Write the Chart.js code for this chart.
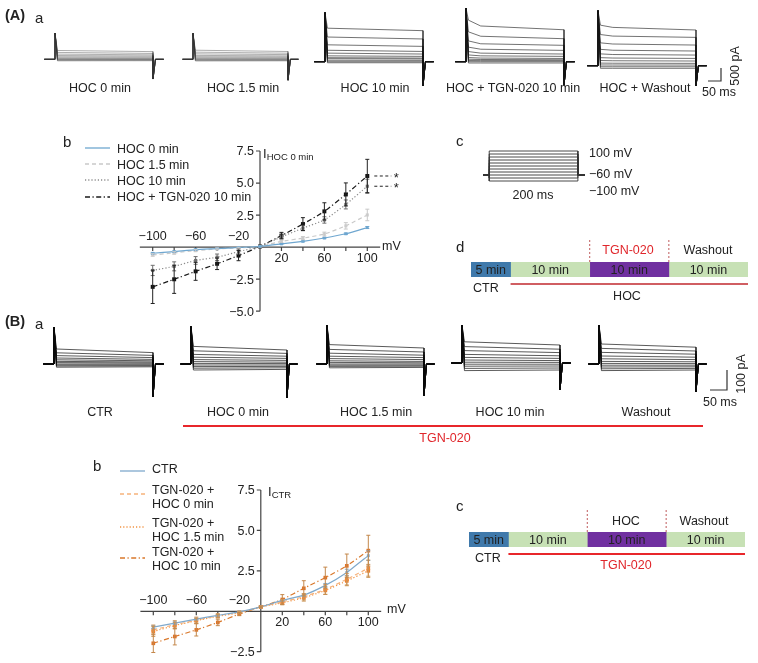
<!DOCTYPE html>
<html>
<head>
<meta charset="utf-8">
<script src="https://cdn.jsdelivr.net/npm/chart.js@4.4.1/dist/chart.umd.min.js"></script>
<style>
html, body { margin: 0; padding: 0; background: #fff; }
#fig { position: relative; width: 758px; height: 663px; overflow: hidden; font-family: "Liberation Sans", Arial, sans-serif; color: #222; }
#fig canvas, #fig svg { position: absolute; left: 0; top: 0; }
.t { position: absolute; white-space: nowrap; font-size: 12.5px; line-height: 1; }
.t sub { font-size: 9.5px; vertical-align: -2px; }
</style>
</head>
<body>
<div id="fig"></div>
<script>
var W = 758, H = 663;
var FONT = '"Liberation Sans", Arial, sans-serif';

// voltage steps (mV), holding potential -60 mV
var steps = [-100, -80, -60, -40, -20, 0, 20, 40, 60, 80, 100];
var holding = -60;

// (A)a current traces in pA: level ~5 ms after step on, ~30 ms (optional), end of step
var aHoc0Early = [-60, -38, -16, 0, 28, 58, 98, 145, 200, 265, 340];
var aHoc0Late = [-55, -35, -15, 0, 25, 50, 85, 125, 170, 225, 295];
var aHoc15Early = [-65, -42, -18, 0, 28, 62, 102, 150, 210, 275, 350];
var aHoc15Late = [-60, -40, -18, 0, 25, 55, 90, 130, 180, 235, 300];
var aHoc10Early = [-40, 0, 55, 115, 155, 225, 330, 440, 650, 950, 1290];
var aHoc10Late = [-40, 0, 50, 105, 140, 205, 295, 395, 590, 875, 1195];
var aTgnEarly = [-50, 0, 45, 95, 160, 260, 390, 560, 800, 1150, 1600];
var aTgnMid = [-50, 0, 42, 85, 140, 225, 330, 480, 690, 980, 1375];
var aTgnLate = [-50, 0, 40, 75, 125, 205, 295, 435, 630, 885, 1230];
var aWashEarly = [-100, -40, 28, 100, 200, 310, 455, 630, 880, 1200, 1560];
var aWashMid = [-100, -40, 26, 95, 190, 295, 430, 595, 835, 1140, 1475];
var aWashLate = [-100, -40, 25, 90, 180, 280, 410, 565, 795, 1090, 1375];

// (B)a current traces in pA
var bCtrEarly = [-16, -10, -5, 0, 7, 13, 21, 30, 42, 56, 75];
var bCtrLate = [-14, -9, -5, 0, 5, 10, 16, 23, 32, 43, 57];
var bHoc0Early = [-30, -21, -13, -5, 3, 12, 22, 34, 48, 66, 88];
var bHoc0Late = [-27, -19, -12, -5, 2, 9, 18, 28, 39, 53, 70];
var bHoc15Early = [-19, -12, -6, 0, 8, 16, 27, 39, 54, 73, 97];
var bHoc15Late = [-17, -11, -6, 0, 6, 13, 22, 32, 44, 60, 80];
var bHoc10Early = [-38, -27, -16, -6, 4, 15, 28, 43, 62, 82, 106];
var bHoc10Late = [-35, -25, -15, -6, 3, 12, 23, 36, 52, 69, 90];
var bWashEarly = [-33, -24, -15, -6, 3, 13, 26, 40, 58, 78, 100];
var bWashLate = [-30, -22, -14, -6, 2, 11, 22, 34, 49, 65, 84];

// (A)b normalized I-V curves (I / I HOC 0 min)
var ivAHoc0 = [-0.48, -0.35, -0.19, -0.12, -0.03, 0.05, 0.25, 0.45, 0.71, 1.04, 1.53];
var ivAHoc0Err = [0.05, 0.05, 0.04, 0.03, 0.02, 0, 0.03, 0.04, 0.05, 0.06, 0.08];
var ivAHoc15 = [-0.61, -0.45, -0.27, -0.14, -0.06, 0.05, 0.45, 0.7, 1.02, 1.66, 2.51];
var ivAHoc15Err = [0.1, 0.1, 0.08, 0.06, 0.05, 0, 0.08, 0.12, 0.15, 0.25, 0.45];
var ivAHoc10 = [-1.82, -1.5, -1.04, -0.79, -0.35, 0.05, 0.8, 1.48, 2.12, 3.33, 4.75];
var ivAHoc10Err = [0.4, 0.35, 0.3, 0.25, 0.2, 0, 0.15, 0.2, 0.25, 0.35, 0.55];
var ivATgn = [-3.1, -2.51, -1.89, -1.3, -0.66, 0.05, 0.9, 1.8, 2.79, 4.11, 5.55];
var ivATgnErr = [1.3, 1.1, 0.7, 0.45, 0.4, 0, 0.25, 0.5, 0.67, 0.9, 1.3];

// (B)b normalized I-V curves (I / I CTR)
var ivBCtr = [-0.98, -0.73, -0.48, -0.25, -0.04, 0.27, 0.67, 1.0, 1.6, 2.4, 3.44];
var ivBCtrErr = [0.1, 0.08, 0.06, 0.05, 0.03, 0.03, 0.05, 0.08, 0.12, 0.2, 0.3];
var ivBHoc0 = [-1.15, -0.83, -0.56, -0.27, -0.06, 0.27, 0.58, 0.9, 1.35, 1.98, 2.67];
var ivBHoc0Err = [0.3, 0.25, 0.2, 0.12, 0.06, 0.05, 0.15, 0.2, 0.3, 0.35, 0.5];
var ivBHoc15 = [-1.25, -0.88, -0.58, -0.31, -0.1, 0.27, 0.52, 0.83, 1.29, 1.88, 2.5];
var ivBHoc15Err = [0.3, 0.2, 0.15, 0.1, 0.05, 0.05, 0.12, 0.2, 0.25, 0.3, 0.4];
var ivBHoc10 = [-1.98, -1.56, -1.15, -0.69, -0.17, 0.27, 0.73, 1.42, 2.08, 2.81, 3.75];
var ivBHoc10Err = [0.57, 0.52, 0.38, 0.2, 0.1, 0.05, 0.3, 0.47, 0.65, 0.73, 0.95];

// axis ticks
var ivXTicksAbove = [-100, -60, -20];
var ivXTicksBelow = [20, 60, 100];
var ivATicksY = [7.5, 5, 2.5, -2.5, -5];
var ivBTicksY = [7.5, 5, 2.5, -2.5];

// experiment timelines (minutes)
var phaseMinutes = [5, 10, 10, 10];
var phaseLabels = ['5 min', '10 min', '10 min', '10 min'];

var fig = document.getElementById('fig');

function makeChart(area, config) {
    var c = document.createElement('canvas');
    c.width = W; c.height = H;
    c.style.width = W + 'px'; c.style.height = H + 'px';
    fig.appendChild(c);
    var o = config.options || {};
    o.responsive = false;
    o.animation = false;
    o.events = [];
    o.layout = { padding: { left: area[0], top: area[1], right: W - area[2], bottom: H - area[3] } };
    o.plugins = o.plugins || {};
    o.plugins.legend = { display: false };
    o.plugins.tooltip = { enabled: false };
    config.options = o;
    return new Chart(c, config);
}

function text(html, x, y, opt) {
    opt = opt || {};
    var d = document.createElement('div');
    d.className = 't';
    d.innerHTML = html;
    d.style.left = x + 'px';
    d.style.top = y + 'px';
    if (opt.size) d.style.fontSize = opt.size + 'px';
    if (opt.color) d.style.color = opt.color;
    if (opt.bold) d.style.fontWeight = 'bold';
    var tx = opt.align == 'center' ? '-50%' : (opt.align == 'right' ? '-100%' : '0');
    d.style.transform = 'translate(' + tx + ',-50%)' + (opt.rotate ? ' rotate(' + opt.rotate + 'deg)' : '');
    fig.appendChild(d);
}

// ---------- current traces ----------
function tracePanel(on, off, base, pAperPx, peak, tail, early, late, mid, color) {
    var ms = (off - on) / 200;
    var area = [on - 22 * ms, base - peak / pAperPx, off + 22 * ms, base - tail / pAperPx];
    var sets = late.map(function (lv, i) {
        var pts = [{ x: -22, y: 0 }, { x: 0, y: 0 }, { x: 0, y: peak }, { x: 5, y: early[i] }];
        if (mid) pts.push({ x: 30, y: mid[i] });
        pts.push({ x: 200, y: lv }, { x: 200, y: tail }, { x: 205, y: 0 }, { x: 222, y: 0 });
        return { data: pts, borderColor: color, borderWidth: 0.8, pointRadius: 0, tension: 0, clip: false };
    });
    makeChart(area, {
        type: 'line',
        data: { datasets: sets },
        options: {
            scales: {
                x: { type: 'linear', display: false, min: -22, max: 222 },
                y: { type: 'linear', display: false, min: tail, max: peak }
            }
        }
    });
}

var gA = 'rgba(50,50,50,0.5)', kA = 'rgba(20,20,20,0.75)', kB = 'rgba(10,10,10,0.85)';
tracePanel(55, 153, 59.3, 38.5, 1010, -760, aHoc0Early, aHoc0Late, null, gA);
tracePanel(193, 288, 59.3, 38.5, 1000, -800, aHoc15Early, aHoc15Late, null, gA);
tracePanel(325, 423, 61.7, 38.5, 1890, -930, aHoc10Early, aHoc10Late, null, kA);
tracePanel(466, 564, 61.7, 38.5, 2060, -900, aTgnEarly, aTgnLate, aTgnMid, kA);
tracePanel(598, 696, 65.7, 38.5, 2120, -780, aWashEarly, aWashLate, aWashMid, kA);

tracePanel(54, 153, 364, 5, 185, -165, bCtrEarly, bCtrLate, null, kB);
tracePanel(191, 287, 364, 5, 187, -167, bHoc0Early, bHoc0Late, null, kB);
tracePanel(327, 424, 364, 5, 195, -160, bHoc15Early, bHoc15Late, null, kB);
tracePanel(462, 560, 363, 5, 190, -135, bHoc10Early, bHoc10Late, null, kB);
tracePanel(599, 696, 364, 5, 195, -138, bWashEarly, bWashLate, null, kB);

// ---------- voltage protocol (A)c ----------
makeChart([483, 151, 585, 181], {
    type: 'line',
    data: {
        datasets: steps.map(function (v) {
            return {
                data: [{ x: -14, y: holding }, { x: 0, y: holding }, { x: 0, y: v }, { x: 200, y: v }, { x: 200, y: holding }, { x: 216, y: holding }],
                borderColor: '#333', borderWidth: 0.9, pointRadius: 0, clip: false
            };
        })
    },
    options: {
        scales: {
            x: { type: 'linear', display: false, min: -14, max: 216 },
            y: { type: 'linear', display: false, min: -100, max: 100 }
        }
    }
});

// ---------- I-V plots ----------
function fmt(v) {
    var s = Math.abs(v) < 10 ? Math.abs(v).toFixed(1) : String(Math.abs(v));
    return (v < 0 ? '\u2212' : '') + s;
}

var ivAxes = {
    id: 'ivAxes',
    beforeDatasetsDraw: function (chart, args, o) {
        var ctx = chart.ctx, xs = chart.scales.x, ys = chart.scales.y;
        var x0 = xs.getPixelForValue(0), y0 = ys.getPixelForValue(0);
        ctx.save();
        ctx.strokeStyle = '#444';
        ctx.lineWidth = 1.2;
        ctx.beginPath();
        ctx.moveTo(x0, ys.getPixelForValue(ys.max));
        ctx.lineTo(x0, ys.getPixelForValue(ys.min));
        ctx.moveTo(xs.getPixelForValue(o.xFrom), y0);
        ctx.lineTo(xs.getPixelForValue(o.xTo), y0);
        o.yTicks.forEach(function (v) {
            var p = ys.getPixelForValue(v);
            ctx.moveTo(x0 - 4, p); ctx.lineTo(x0, p);
        });
        steps.forEach(function (v) {
            if (v == 0) return;
            var p = xs.getPixelForValue(v);
            ctx.moveTo(p, y0); ctx.lineTo(p, y0 + 4);
        });
        ctx.stroke();
        ctx.fillStyle = '#222';
        ctx.font = '12.5px ' + FONT;
        ctx.textAlign = 'right';
        ctx.textBaseline = 'middle';
        o.yTicks.forEach(function (v) {
            ctx.fillText(fmt(v), x0 - 6, ys.getPixelForValue(v) + 1);
        });
        ctx.textAlign = 'center';
        ctx.textBaseline = 'bottom';
        ivXTicksAbove.forEach(function (v) {
            ctx.fillText(fmt(v).replace('.0', ''), xs.getPixelForValue(v), y0 - 4);
        });
        ctx.textBaseline = 'top';
        ivXTicksBelow.forEach(function (v) {
            ctx.fillText(fmt(v).replace('.0', ''), xs.getPixelForValue(v), y0 + 5);
        });
        ctx.restore();
    }
};

var errorBars = {
    id: 'errorBars',
    afterDatasetsDraw: function (chart) {
        var ctx = chart.ctx, ys = chart.scales.y;
        chart.data.datasets.forEach(function (ds, i) {
            var meta = chart.getDatasetMeta(i);
            ctx.save();
            ctx.strokeStyle = ds.errColor;
            ctx.lineWidth = 1;
            ctx.beginPath();
            meta.data.forEach(function (pt, j) {
                var e = ds.err[j];
                if (!e) return;
                var v = ds.data[j].y;
                var top = ys.getPixelForValue(v + e), bot = ys.getPixelForValue(v - e);
                ctx.moveTo(pt.x, top); ctx.lineTo(pt.x, bot);
                ctx.moveTo(pt.x - 2, top); ctx.lineTo(pt.x + 2, top);
                ctx.moveTo(pt.x - 2, bot); ctx.lineTo(pt.x + 2, bot);
            });
            ctx.stroke();
            if (ds.star) {
                var last = meta.data[meta.data.length - 1];
                ctx.setLineDash([3, 2.5]);
                ctx.strokeStyle = '#222';
                ctx.beginPath();
                ctx.moveTo(last.x + 7, last.y); ctx.lineTo(last.x + 24, last.y);
                ctx.stroke();
                ctx.fillStyle = '#222';
                ctx.font = '13px ' + FONT;
                ctx.textAlign = 'center';
                ctx.textBaseline = 'middle';
                ctx.fillText('*', last.x + 29, last.y + 2);
            }
            ctx.restore();
        });
    }
};

function ivSet(vals, err, color, dash, pointColor, errColor, radius, star) {
    return {
        data: steps.map(function (v, i) { return { x: v, y: vals[i] }; }),
        err: err, errColor: errColor, star: star,
        borderColor: color, borderWidth: 1.2, borderDash: dash,
        pointStyle: 'rect', pointRadius: radius, pointBackgroundColor: pointColor, pointBorderWidth: 0,
        tension: 0.15, clip: false
    };
}

function ivChart(area, yMin, yMax, yTicks, sets) {
    makeChart(area, {
        type: 'line',
        data: { datasets: sets },
        options: {
            scales: {
                x: { type: 'linear', display: false, min: -100, max: 100 },
                y: { type: 'linear', display: false, min: yMin, max: yMax }
            },
            plugins: { ivAxes: { xFrom: -112, xTo: 112, yTicks: yTicks } }
        },
        plugins: [ivAxes, errorBars]
    });
}

var dashA = [4, 3], dotA = [1.2, 2], dashDot = [5, 2.5, 1.2, 2.5];
ivChart([152.7, 151, 367.3, 311.2], -5, 7.5, ivATicksY, [
    ivSet(ivAHoc0, ivAHoc0Err, '#6fa7d0', [], '#6fa7d0', '#6fa7d0', 2, false),
    ivSet(ivAHoc15, ivAHoc15Err, '#c9c9c9', dashA, '#cfcfcf', '#c9c9c9', 2.2, false),
    ivSet(ivAHoc10, ivAHoc10Err, '#8c8c8c', dotA, '#6e6e6e', '#6e6e6e', 2.2, true),
    ivSet(ivATgn, ivATgnErr, '#1a1a1a', dashDot, '#111', '#222', 2.8, true)
]);

ivChart([153.3, 490, 368.3, 651.7], -2.5, 7.5, ivBTicksY, [
    ivSet(ivBCtr, ivBCtrErr, '#7fa9cc', [], '#7fa9cc', '#7fa9cc', 2, false),
    ivSet(ivBHoc0, ivBHoc0Err, '#f6b27b', dashA, '#f0883a', '#d09a60', 2.6, false),
    ivSet(ivBHoc15, ivBHoc15Err, '#f19241', dotA, '#ee7f2d', '#c99152', 2.6, false),
    ivSet(ivBHoc10, ivBHoc10Err, '#d9782b', dashDot, '#e07428', '#c4874a', 2.6, false)
]);

// ---------- timelines ----------
var timeline = {
    id: 'timeline',
    afterDatasetsDraw: function (chart, args, o) {
        var ctx = chart.ctx, xs = chart.scales.x, a = chart.chartArea;
        ctx.save();
        ctx.font = '12.5px ' + FONT;
        ctx.fillStyle = '#222';
        ctx.textAlign = 'center';
        ctx.textBaseline = 'middle';
        var acc = 0;
        phaseMinutes.forEach(function (m, i) {
            ctx.fillText(phaseLabels[i], xs.getPixelForValue(acc + m / 2), (a.top + a.bottom) / 2 + 1);
            acc += m;
        });
        ctx.strokeStyle = o.lineColor;
        ctx.lineWidth = o.lineWidth;
        ctx.beginPath();
        ctx.moveTo(xs.getPixelForValue(phaseMinutes[0]), a.bottom + 7);
        ctx.lineTo(xs.getPixelForValue(35), a.bottom + 7);
        ctx.stroke();
        ctx.strokeStyle = '#b8474a';
        ctx.lineWidth = 0.9;
        ctx.setLineDash([2, 2]);
        ctx.beginPath();
        [15, 25].forEach(function (m) {
            var p = xs.getPixelForValue(m);
            ctx.moveTo(p, a.top - 22); ctx.lineTo(p, a.top);
        });
        ctx.stroke();
        ctx.restore();
    }
};

function timelineChart(area, lineColor, lineWidth) {
    var colors = ['#3f79ab', '#c7e1b5', '#7030a0', '#c7e1b5'];
    makeChart(area, {
        type: 'bar',
        data: {
            labels: [''],
            datasets: phaseMinutes.map(function (m, i) {
                return { data: [m], backgroundColor: colors[i], borderWidth: 0, barPercentage: 1, categoryPercentage: 1 };
            })
        },
        options: {
            indexAxis: 'y',
            scales: {
                x: { stacked: true, display: false, min: 0, max: 35 },
                y: { stacked: true, display: false }
            },
            plugins: { timeline: { lineColor: lineColor, lineWidth: lineWidth } }
        },
        plugins: [timeline]
    });
}
timelineChart([471, 262, 748, 277], '#c0282e', 1.6);
timelineChart([469, 532, 745, 547], '#e8262b', 1.8);

// ---------- overlay: legend samples, scale bars, red bar ----------
var svg = '<svg width="758" height="663" xmlns="http://www.w3.org/2000/svg">' +
    '<g stroke-width="1.3" fill="none">' +
    '<line x1="85" y1="148" x2="110" y2="148" stroke="#6fa7d0"/>' +
    '<line x1="85" y1="164" x2="110" y2="164" stroke="#c9c9c9" stroke-dasharray="4 3"/>' +
    '<line x1="85" y1="180" x2="110" y2="180" stroke="#8c8c8c" stroke-dasharray="1.2 2"/>' +
    '<line x1="85" y1="197" x2="110" y2="197" stroke="#1a1a1a" stroke-dasharray="5 2.5 1.2 2.5"/>' +
    '<line x1="120" y1="471" x2="145" y2="471" stroke="#7fa9cc"/>' +
    '<line x1="120" y1="494" x2="145" y2="494" stroke="#f6b27b" stroke-dasharray="4 3"/>' +
    '<line x1="120" y1="527" x2="145" y2="527" stroke="#f19241" stroke-dasharray="1.2 2"/>' +
    '<line x1="120" y1="558" x2="145" y2="558" stroke="#d9782b" stroke-dasharray="5 2.5 1.2 2.5"/>' +
    '<polyline points="721,68 721,81 708,81" stroke="#333" stroke-width="1.2"/>' +
    '<polyline points="727,370 727,390 710,390" stroke="#333" stroke-width="1.2"/>' +
    '<line x1="183" y1="426" x2="703" y2="426" stroke="#e8262b" stroke-width="2"/>' +
    '</g></svg>';
fig.insertAdjacentHTML('beforeend', svg);

// ---------- texts ----------
text('(A)', 5, 15, { bold: true, size: 14.5 });
text('a', 35, 17, { size: 15 });
text('HOC 0 min', 100, 88, { align: 'center' });
text('HOC 1.5 min', 243, 88, { align: 'center' });
text('HOC 10 min', 375, 88, { align: 'center' });
text('HOC + TGN-020 10 min', 513, 88, { align: 'center' });
text('HOC + Washout', 645, 88, { align: 'center' });
text('500 pA', 735, 66, { align: 'center', rotate: -90 });
text('50 ms', 719, 92, { align: 'center' });

text('b', 63, 141, { size: 15 });
text('HOC 0 min', 117, 149);
text('HOC 1.5 min', 117, 165);
text('HOC 10 min', 117, 181);
text('HOC + TGN-020 10 min', 117, 197);
text('I<sub>HOC 0 min</sub>', 263, 154, { size: 13 });
text('mV', 382, 246);

text('c', 456, 140, { size: 15 });
text('100 mV', 589, 153);
text('\u221260 mV', 589, 174);
text('\u2212100 mV', 589, 191);
text('200 ms', 533, 195, { align: 'center' });

text('d', 456, 246, { size: 15 });
text('TGN-020', 628, 250, { align: 'center', color: '#e0262b' });
text('Washout', 708, 250, { align: 'center' });
text('CTR', 473, 288);
text('HOC', 627, 296, { align: 'center' });

text('(B)', 5, 321, { bold: true, size: 14.5 });
text('a', 35, 323, { size: 15 });
text('CTR', 100, 412, { align: 'center' });
text('HOC 0 min', 238, 412, { align: 'center' });
text('HOC 1.5 min', 376, 412, { align: 'center' });
text('HOC 10 min', 510, 412, { align: 'center' });
text('Washout', 646, 412, { align: 'center' });
text('TGN-020', 445, 438, { align: 'center', color: '#e0262b' });
text('100 pA', 741, 374, { align: 'center', rotate: -90 });
text('50 ms', 720, 402, { align: 'center' });

text('b', 93, 465, { size: 15 });
text('CTR', 152, 469);
text('TGN-020 +', 152, 490);
text('HOC 0 min', 152, 504);
text('TGN-020 +', 152, 523);
text('HOC 1.5 min', 152, 537);
text('TGN-020 +', 152, 552);
text('HOC 10 min', 152, 566);
text('I<sub>CTR</sub>', 268, 492, { size: 13 });
text('mV', 387, 609);

text('c', 456, 505, { size: 15 });
text('HOC', 626, 521, { align: 'center' });
text('Washout', 704, 521, { align: 'center' });
text('CTR', 475, 558);
text('TGN-020', 626, 565, { align: 'center', color: '#e0262b' });
</script>
</body>
</html>
